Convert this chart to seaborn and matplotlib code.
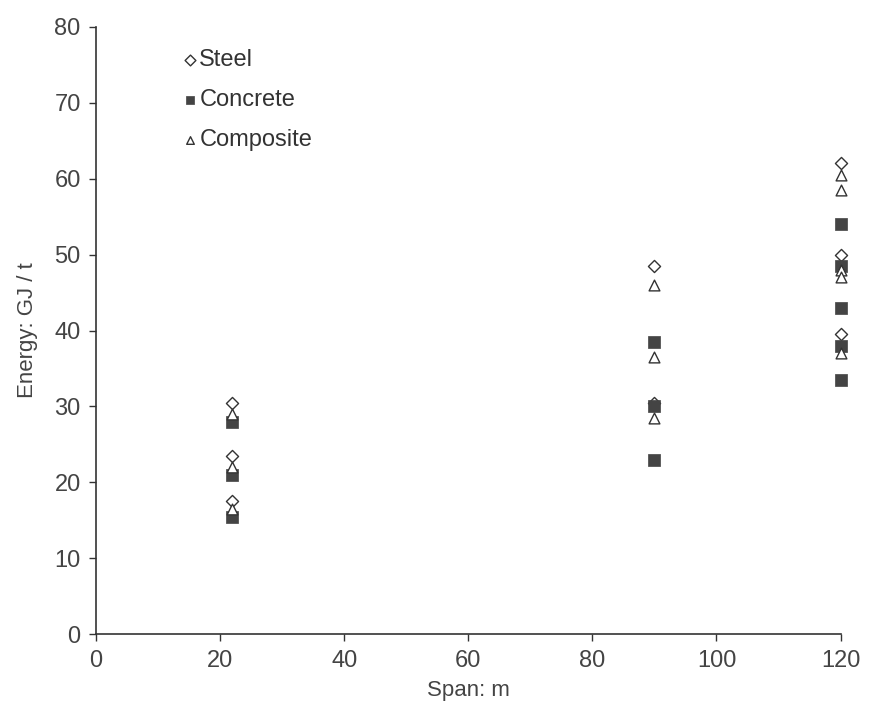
import matplotlib
matplotlib.use("Agg")
import matplotlib.pyplot as plt
import seaborn as sns
import pandas as pd

# values
steel_span = [22, 22, 22, 90, 90, 120, 120, 120]
steel_energy = [30.5, 23.5, 17.5, 48.5, 30.5, 62, 50, 39.5]

concrete_span = [22, 22, 22, 90, 90, 90, 120, 120, 120, 120, 120]
concrete_energy = [28, 21, 15.5, 38.5, 30, 23, 54, 48.5, 43, 38, 33.5]

composite_span = [22, 22, 22, 90, 90, 90, 120, 120, 120, 120, 120]
composite_energy = [29, 22, 16.5, 46, 36.5, 28.5, 60.5, 58.5, 48, 47, 37]

df = pd.concat([
    pd.DataFrame({"span": steel_span, "energy": steel_energy, "type": "Steel"}),
    pd.DataFrame({"span": concrete_span, "energy": concrete_energy, "type": "Concrete"}),
    pd.DataFrame({"span": composite_span, "energy": composite_energy, "type": "Composite"}),
])

sns.set_style("white")
plt.rcParams["font.family"] = ["Liberation Sans", "DejaVu Sans"]

fig = plt.figure(figsize=(8.72, 7.24), dpi=100)
ax = fig.add_axes([0.11, 0.124, 0.854, 0.839])

styles = {
    "Steel": dict(marker="D", s=38, facecolor="white", edgecolor="#333333", linewidth=1.0),
    "Concrete": dict(marker="s", s=70, facecolor="#444444", edgecolor="#444444", linewidth=0.5),
    "Composite": dict(marker="^", s=60, facecolor="white", edgecolor="#333333", linewidth=1.0),
}

for name in ["Steel", "Concrete", "Composite"]:
    sub = df[df["type"] == name]
    sns.scatterplot(data=sub, x="span", y="energy", ax=ax, label=name,
                    clip_on=False, zorder=3, **styles[name])

ax.set_xlim(0, 120)
ax.set_ylim(0, 80)
ax.set_xticks(range(0, 121, 20))
ax.set_yticks(range(0, 81, 10))
ax.tick_params(axis="both", direction="out", length=5, width=1, colors="#333333",
               labelsize=17, labelcolor="#444444", pad=6)
ax.xaxis.set_ticks_position("bottom")
ax.yaxis.set_ticks_position("left")
for side in ["top", "right"]:
    ax.spines[side].set_visible(False)
for side in ["left", "bottom"]:
    ax.spines[side].set_color("#333333")
    ax.spines[side].set_linewidth(1.2)

ax.set_xlabel("Span: m", fontsize=16, color="#444444", labelpad=6)
ax.set_ylabel("Energy: GJ / t", fontsize=16, color="#444444", labelpad=12)

leg = ax.legend(loc="upper left", bbox_to_anchor=(0.085, 0.99), frameon=False,
                fontsize=17, handletextpad=-0.2, handlelength=1.2,
                labelspacing=0.75, borderaxespad=0.3)
for t in leg.get_texts():
    t.set_color("#333333")
for h in leg.legend_handles:
    h.set_sizes([30])

fig.savefig("out.png", dpi=100)
